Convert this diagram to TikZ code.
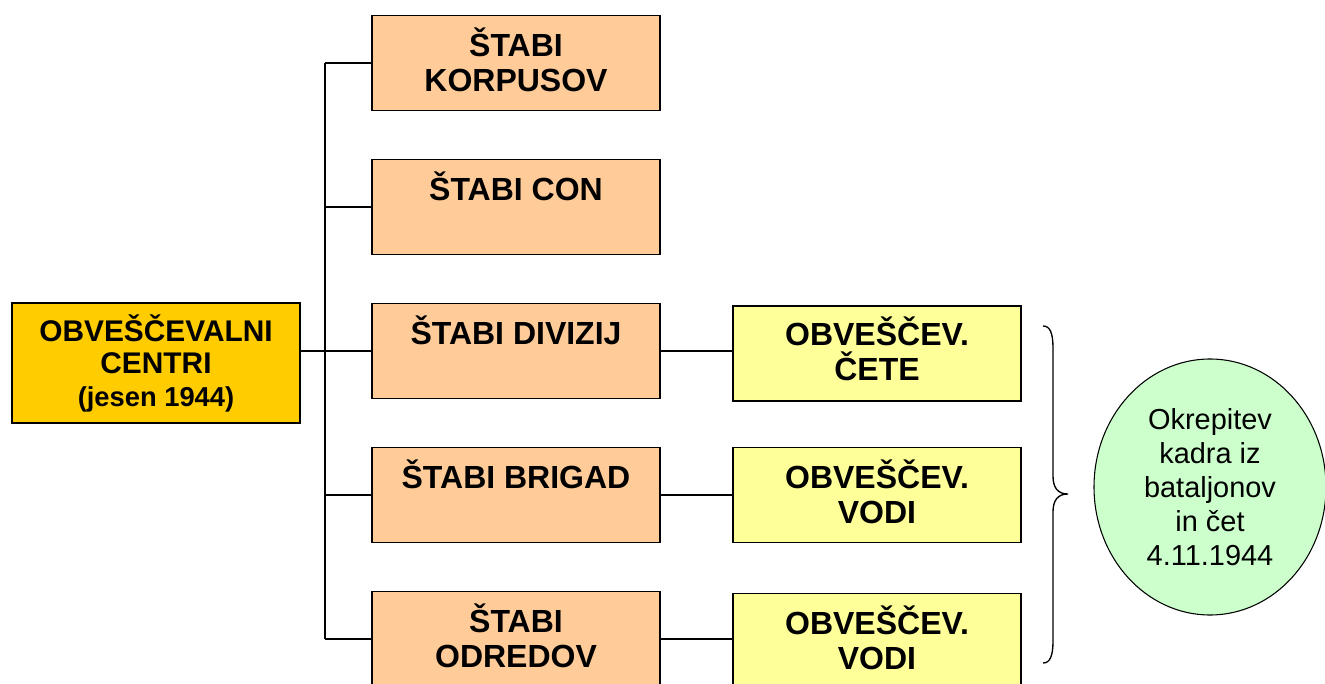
\documentclass[tikz,border=0pt]{standalone}
\usepackage{fontspec}
\setmainfont{Liberation Sans}
\usetikzlibrary{shapes.geometric}
\definecolor{gold}{HTML}{FFCC00}
\definecolor{peach}{HTML}{FFCC99}
\definecolor{lyellow}{HTML}{FFFF99}
\definecolor{lgreen}{HTML}{CCFFCC}
\begin{document}
\begin{tikzpicture}[x=0.75pt,y=-0.75pt,
  boxbase/.style={draw=black,line width=1.3pt,rectangle,inner sep=0pt,minimum width=216pt},
  lbox/.style={boxbase,fill=gold,minimum height=90pt},
  obox/.style={boxbase,fill=peach,minimum height=71.25pt},
  ybox/.style={boxbase,fill=lyellow,minimum height=71.25pt},
  btext/.style={anchor=north,inner sep=0pt,align=center,font=\bfseries\fontsize{24}{26.25}\selectfont},
  ltext/.style={anchor=north,inner sep=0pt,align=center,font=\bfseries\fontsize{22.4}{24.5}\selectfont},
  conn/.style={draw=black,line width=1.3pt},
  bracestyle/.style={draw=black,line width=1pt},
  note/.style={ellipse,draw=black,line width=0.8pt,fill=lgreen,minimum width=174pt,minimum height=192pt,inner sep=0pt,align=center,font=\fontsize{21.7}{25.5}\selectfont}
]
\useasboundingbox (0,0) rectangle (1325,684);
\clip (0,0) rectangle (1325,684);

% left box
\node[lbox] (oc) at (156,363) {};
\node[ltext] at ([yshift=-9pt]oc.north) {OBVEŠČEVALNI\\CENTRI\\\fontsize{20.5}{24.5}\selectfont (jesen 1944)};

% orange boxes
\node[obox] (k) at (516,63) {};
\node[obox] (c) at (516,207) {};
\node[obox] (d) at (516,351) {};
\node[obox] (b) at (516,495) {};
\node[obox] (o) at (516,639) {};
\node[btext] at ([yshift=-10pt]k.north) {ŠTABI\\KORPUSOV};
\node[btext] at ([yshift=-10pt]c.north) {ŠTABI CON};
\node[btext] at ([yshift=-10pt]d.north) {ŠTABI DIVIZIJ};
\node[btext] at ([yshift=-10pt]b.north) {ŠTABI BRIGAD};
\node[btext] at ([yshift=-10pt]o.north) {ŠTABI\\ODREDOV};

% yellow boxes
\node[ybox] (yc) at (877,353.5) {};
\node[ybox] (yv1) at (877,495) {};
\node[ybox] (yv2) at (877,641) {};
\node[btext] at ([yshift=-8.5pt]yc.north) {OBVEŠČEV.\\ČETE};
\node[btext] at ([yshift=-10pt]yv1.north) {OBVEŠČEV.\\VODI};
\node[btext] at ([yshift=-10pt]yv2.north) {OBVEŠČEV.\\VODI};

% trunk
\coordinate (tk) at (325,63);
\coordinate (tm) at (325,351);
\coordinate (tb) at (325,639);
\draw[conn] (tk) -- (tb);
\draw[conn] (tm -| oc.east) -- (tm);
\draw[conn] (tk) -- (k.west);
\draw[conn] (tk |- c.west) -- (c.west);
\draw[conn] (tm) -- (d.west);
\draw[conn] (tk |- b.west) -- (b.west);
\draw[conn] (tb) -- (o.west);

% orange to yellow
\draw[conn] (d.east) -- (yc.west |- d.east);
\draw[conn] (b.east) -- (yv1.west |- b.east);
\draw[conn] (o.east) -- (yv2.west |- o.east);

% brace
\coordinate (brt) at (1043,326);
\coordinate (brm) at (1068,494);
\coordinate (brb) at (1043,663);
\draw[bracestyle] (brt) .. controls (1050,326) and (1053,333) .. (1053,348)
  -- (1053,476) .. controls (1053,488) and (1058,494) .. (brm)
  .. controls (1058,494) and (1053,500) .. (1053,512)
  -- (1053,641) .. controls (1053,656) and (1050,663) .. (brb);

% ellipse
\node[note] (n) at (1210,487) {Okrepitev\\kadra iz\\bataljonov\\in čet\\4.11.1944};
\end{tikzpicture}
\end{document}
